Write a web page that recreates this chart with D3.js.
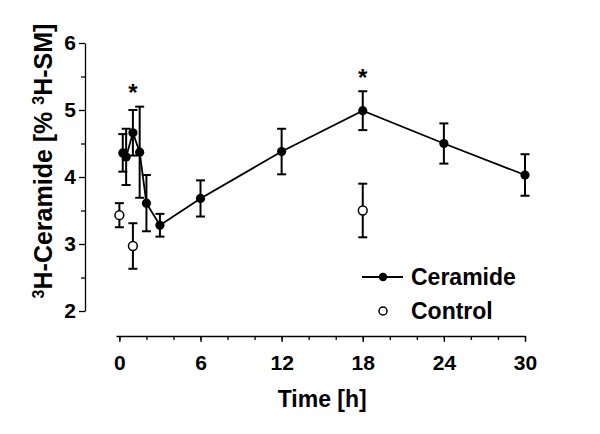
<!DOCTYPE html>
<html>
<head>
<meta charset="utf-8">
<script src="https://cdn.jsdelivr.net/npm/d3@7"></script>
<style>
  body { margin: 0; background: #fff; }
  svg text { font-family: "Liberation Sans", Arial, sans-serif; font-weight: bold; fill: #000; }
</style>
</head>
<body>
<svg id="chart" width="600" height="434"></svg>
<script>
// Ceramide series (filled circles, connected)
const ceramideTime = [0.25, 0.5, 1, 1.5, 2, 3, 6, 12, 18, 24, 30];
const ceramideMean = [4.36, 4.30, 4.66, 4.37, 3.61, 3.28, 3.68, 4.38, 4.99, 4.50, 4.03];
const ceramideErr  = [0.28, 0.42, 0.34, 0.68, 0.42, 0.17, 0.27, 0.34, 0.29, 0.30, 0.31];

// Control series (open circles, not connected)
const controlTime = [0, 1, 18];
const controlMean = [3.43, 2.97, 3.50];
const controlErr  = [0.18, 0.34, 0.40];

// significance marks
const starTime  = [1, 18];
const starValue = [5.34, 5.57];

const xTicksMajor = [0, 6, 12, 18, 24, 30];
const xTicksMinor = [0, 2, 4, 6, 8, 10, 12, 14, 16, 18, 20, 22, 24, 26, 28, 30];
const yTicksMajor = [2, 3, 4, 5, 6];
const yTicksMinor = [2.5, 3.5, 4.5, 5.5];

const svg = d3.select("#chart");

const x = d3.scaleLinear().domain([-0.25, 30]).range([116, 525]);
const y = d3.scaleLinear().domain([2, 6]).range([311, 43]);

const ceramide = ceramideTime.map((t, i) => ({ t, v: ceramideMean[i], e: ceramideErr[i] }));
const control = controlTime.map((t, i) => ({ t, v: controlMean[i], e: controlErr[i] }));

// y axis
const yAxisX = 85;
svg.append("g")
    .attr("transform", `translate(${yAxisX},0)`)
    .call(d3.axisLeft(y).tickValues(yTicksMajor).tickFormat(d3.format("d")).tickSizeInner(6).tickSizeOuter(0).tickPadding(3))
    .call(g => g.select(".domain").attr("stroke-width", 1.3))
    .call(g => g.selectAll(".tick line").attr("stroke-width", 1.3))
    .call(g => g.selectAll(".tick text").style("font-size", "21px").attr("font-family", null));

svg.append("g")
    .attr("transform", `translate(${yAxisX},0)`)
    .call(d3.axisLeft(y).tickValues(yTicksMinor).tickFormat("").tickSizeInner(4).tickSizeOuter(0))
    .call(g => g.select(".domain").remove())
    .call(g => g.selectAll(".tick line").attr("stroke-width", 1.3));

// x axis
const xAxisY = 336;
svg.append("g")
    .attr("transform", `translate(0,${xAxisY})`)
    .call(d3.axisBottom(x).tickValues(xTicksMinor).tickFormat("").tickSizeInner(4).tickSizeOuter(0))
    .call(g => g.select(".domain").attr("stroke-width", 1.3))
    .call(g => g.selectAll(".tick line").attr("stroke-width", 1.3));

svg.append("g")
    .attr("transform", `translate(0,${xAxisY})`)
    .call(d3.axisBottom(x).tickValues(xTicksMajor).tickFormat(d3.format("d")).tickSizeInner(6).tickSizeOuter(0).tickPadding(13))
    .call(g => g.select(".domain").remove())
    .call(g => g.selectAll(".tick line").attr("stroke-width", 1.3))
    .call(g => g.selectAll(".tick text").style("font-size", "21px").attr("font-family", null));

// axis titles
svg.append("text")
    .attr("x", (x(0) + x(30)) / 2)
    .attr("y", 407)
    .attr("text-anchor", "middle")
    .style("font-size", "23px")
    .text("Time [h]");

const yTitle = svg.append("text")
    .attr("transform", "translate(52,161) rotate(-90)")
    .attr("text-anchor", "middle")
    .style("font-size", "25px");
yTitle.append("tspan").attr("baseline-shift", "super").style("font-size", "16px").text("3");
yTitle.append("tspan").text("H-Ceramide [% ");
yTitle.append("tspan").attr("baseline-shift", "super").style("font-size", "16px").text("3");
yTitle.append("tspan").text("H-SM]");

// error bars
const capW = 4.5;
function errorBars(data) {
    const g = svg.append("g").attr("stroke", "#000").attr("stroke-width", 2);
    data.forEach(d => {
        const top = y(d.v + d.e), bot = y(d.v - d.e), cx = x(d.t);
        g.append("line").attr("x1", cx).attr("x2", cx).attr("y1", top).attr("y2", bot);
        g.append("line").attr("x1", cx - capW).attr("x2", cx + capW).attr("y1", top).attr("y2", top);
        g.append("line").attr("x1", cx - capW).attr("x2", cx + capW).attr("y1", bot).attr("y2", bot);
    });
}
errorBars(control);
errorBars(ceramide);

// ceramide line
const line = d3.line().x(d => x(d.t)).y(d => y(d.v));
svg.append("path")
    .datum(ceramide)
    .attr("d", line)
    .attr("fill", "none")
    .attr("stroke", "#000")
    .attr("stroke-width", 1.8);

svg.selectAll(".cer")
    .data(ceramide)
    .enter().append("circle")
    .attr("class", "cer")
    .attr("cx", d => x(d.t))
    .attr("cy", d => y(d.v))
    .attr("r", 4.6)
    .attr("fill", "#000");

svg.selectAll(".ctl")
    .data(control)
    .enter().append("circle")
    .attr("class", "ctl")
    .attr("cx", d => x(d.t))
    .attr("cy", d => y(d.v))
    .attr("r", 4.4)
    .attr("fill", "#fff")
    .attr("stroke", "#000")
    .attr("stroke-width", 1.5);

// asterisks
svg.selectAll(".star")
    .data(starTime)
    .enter().append("text")
    .attr("class", "star")
    .attr("x", d => x(d))
    .attr("y", (d, i) => y(starValue[i]) + 14)
    .attr("text-anchor", "middle")
    .style("font-size", "24px")
    .text("*");

// legend
const lg = svg.append("g");
lg.append("line").attr("x1", 362).attr("x2", 403).attr("y1", 277).attr("y2", 277)
    .attr("stroke", "#000").attr("stroke-width", 1.8);
lg.append("circle").attr("cx", 383).attr("cy", 277).attr("r", 4.2).attr("fill", "#000");
lg.append("text").attr("x", 411).attr("y", 285).style("font-size", "23px").text("Ceramide");
lg.append("circle").attr("cx", 383).attr("cy", 311).attr("r", 4).attr("fill", "#fff")
    .attr("stroke", "#000").attr("stroke-width", 1.5);
lg.append("text").attr("x", 411).attr("y", 319).style("font-size", "23px").text("Control");
</script>
</body>
</html>
